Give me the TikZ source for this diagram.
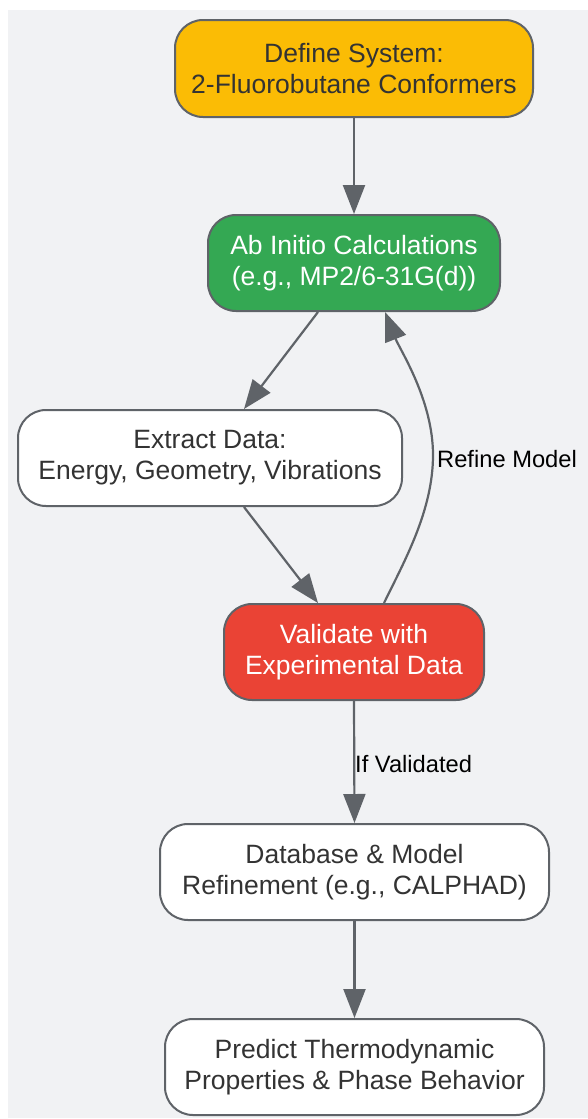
\documentclass[tikz,border=0pt]{standalone}
\usepackage{fontspec}
\setmainfont{Liberation Sans}
\usetikzlibrary{arrows.meta,calc}
\definecolor{bgc}{HTML}{F1F2F4}
\definecolor{edgec}{HTML}{5F6368}
\definecolor{txtc}{HTML}{333333}
\definecolor{yel}{HTML}{FBBC05}
\definecolor{grn}{HTML}{34A853}
\definecolor{rd}{HTML}{EA4335}
\tikzset{
  box/.style={draw=edgec, line width=2pt, rounded corners=28pt, align=center,
    font=\fontsize{26.5}{31}\selectfont, text=txtc, fill=white, inner sep=0pt},
  conn/.style={draw=edgec, line width=2.2pt, -{Triangle[length=29pt,width=22pt]}},
  elabel/.style={font=\fontsize{23.7}{28}\selectfont, text=black, inner sep=0pt}
}
\begin{document}
\begin{tikzpicture}[x=1pt,y=-1pt]
\useasboundingbox (0,0) rectangle (588,1119);
\fill[white] (0,0) rectangle (588,1119);
\fill[bgc] (8,10) rectangle (588,1118);
\node[box, fill=yel, minimum width=358pt, minimum height=97pt] (n1) at (354,68.5) {Define System:\\2-Fluorobutane Conformers};
\node[box, fill=grn, text=white, minimum width=292pt, minimum height=96pt] (n2) at (354,263) {Ab Initio Calculations\\(e.g., MP2/6-31G(d))};
\node[box, minimum width=384pt, minimum height=96pt] (n3) at (210,458) {Extract Data:\\Energy, Geometry, Vibrations};
\node[box, fill=rd, text=white, minimum width=260pt, minimum height=96pt] (n4) at (354,652) {Validate with\\Experimental Data};
\node[box, minimum width=389pt, minimum height=96pt] (n5) at (354.5,872) {Database \& Model\\Refinement (e.g., CALPHAD)};
\node[box, minimum width=379pt, minimum height=96pt] (n6) at (354.5,1067) {Predict Thermodynamic\\Properties \& Phase Behavior};
\draw[conn] (n1.south) -- (n2.north);
\draw[conn] ($(n2.south)+(-36,0)$) -- ($(n3.north)+(34,0)$);
\draw[conn] ($(n3.south)+(34,0)$) -- ($(n4.north)+(-36,0)$);
\draw[conn] ($(n4.north)+(30,0)$) .. controls (405,560) and (433,510) .. (433,455)
   .. controls (433,400) and (400,350) .. ($(n2.south)+(31,0)$);
\node[elabel, anchor=west] (l1) at (437,459) {Refine Model};
\draw[conn] (n4.south) -- (n5.north);
\node[elabel, anchor=west] (l2) at (355,764) {If Validated};
\draw[conn] (n5.south) -- (n6.north);
\end{tikzpicture}
\end{document}
